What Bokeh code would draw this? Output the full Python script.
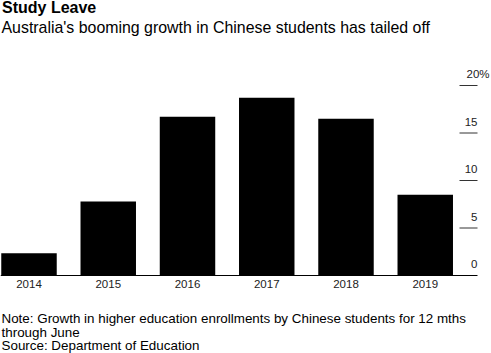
from bokeh.plotting import figure
from bokeh.models import Range1d, Label, ColumnDataSource
from bokeh.core.properties import value
from bokeh.embed import file_html
from bokeh.resources import INLINE

# ---- data ----
years = ["2014", "2015", "2016", "2017", "2018", "2019"]
growth = [2.35, 7.8, 16.7, 18.7, 16.5, 8.5]
y_ticks = [0, 5, 10, 15, 20]
y_tick_labels = ["0", "5", "10", "15", "20%"]
title = "Study Leave"
subtitle = "Australia's booming growth in Chinese students has tailed off"
notes = ["Note: Growth in higher education enrollments by Chinese students for 12 mths",
         "through June",
         "Source: Department of Education"]

FONT = "Liberation Sans"
W, H = 491, 353
# layout constants (pixels)
BASE_PX = 275.0      # pixel row of value 0
PX_PER_UNIT = 9.5    # vertical pixels per percentage point
X0_PX = 28.5         # centre of first bar
STEP_PX = 79.25      # distance between bar centres

def xd(px):
    return (px - X0_PX) / STEP_PX

def yd(py):
    return (BASE_PX - py) / PX_PER_UNIT

x = list(range(len(years)))

p = figure(width=W, height=H, output_backend="svg", toolbar_location=None,
           title=None, x_axis_location=None, y_axis_location=None,
           x_range=Range1d(xd(0), xd(W)),
           y_range=Range1d(yd(H), yd(0)),
           min_border=0)
p.outline_line_color = None
p.background_fill_color = "white"
p.border_fill_color = "white"
p.grid.visible = False

src = ColumnDataSource(dict(x=x, top=growth))
p.vbar(x="x", top="top", bottom=0, width=0.70, source=src,
       fill_color="black", line_color=None)

# baseline
p.segment(x0=[xd(0)], y0=[0], x1=[xd(477)], y1=[0], line_color="black", line_width=1)
# short right-hand tick lines
tick_y = [t for t in y_ticks if t != 0]
p.segment(x0=[xd(459)] * len(tick_y), y0=tick_y, x1=[xd(477)] * len(tick_y), y1=tick_y,
          line_color="#333333", line_width=1)

# y tick labels (right aligned, above their tick lines)
nums = y_ticks[:-1]
p.text(x=[xd(477)] * len(nums), y=nums, text=y_tick_labels[:-1],
       text_font=value(FONT), text_font_size="11.5px", text_color="#222222",
       text_align="right", text_baseline="middle", y_offset=-11.5)
p.text(x=[xd(477)], y=[y_ticks[-1]], text=[y_tick_labels[-1]],
       text_font=value(FONT), text_font_size="11.5px", text_color="#222222",
       text_align="right", text_baseline="middle", y_offset=-11.5, x_offset=12)

# x (year) labels under each bar
p.text(x=x, y=[0] * len(x), text=years,
       text_font=value(FONT), text_font_size="11.5px", text_color="#222222",
       text_align="center", text_baseline="middle", y_offset=8.5)

# title / subtitle
p.add_layout(Label(x=xd(1.5), y=yd(7.0), text=title, text_font=FONT,
                   text_font_size="16px", text_font_style="bold", text_color="black",
                   text_baseline="middle", text_align="left"))
p.add_layout(Label(x=xd(1), y=yd(26.5), text=subtitle, text_font=FONT,
                   text_font_size="15.9px", text_color="black",
                   text_baseline="middle", text_align="left"))

# notes
for i, line in enumerate(notes):
    p.add_layout(Label(x=xd(1), y=yd(318.3 + 13.3 * i), text=line, text_font=FONT,
                       text_font_size="13.4px", text_color="black",
                       text_baseline="middle", text_align="left"))

open("out.html", "w").write(file_html(p, INLINE))
